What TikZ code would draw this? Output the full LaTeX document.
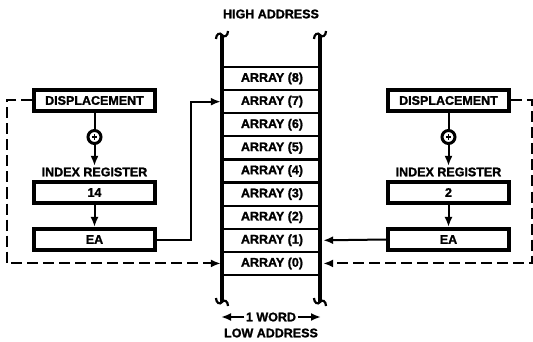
\documentclass[tikz,border=0pt]{standalone}
\usepackage{fontspec}
\setmainfont{Liberation Sans}[BoldFeatures={FakeBold=1.5}]
\usetikzlibrary{arrows.meta}
\begin{document}
\begin{tikzpicture}[x=1pt,y=-1pt,
  font=\bfseries\fontsize{12.5}{14}\selectfont,
  reg/.style={draw, line width=3.6pt, minimum width=121pt, minimum height=21.5pt, inner sep=0pt},
  cell/.style={minimum width=102pt, minimum height=23.1pt, inner sep=0pt},
  lbl/.style={inner sep=1.5pt},
  conn/.style={line width=2pt},
  tip/.style={-{Latex[length=10pt,width=8pt]}},
  dsh/.style={conn, dash pattern=on 11pt off 5pt},
  plus/.style={circle, draw, line width=3pt, minimum size=13pt, inner sep=0pt},
  mem/.style={line width=4.5pt},
  curl/.style={line width=2.2pt},
  row/.style={line width=2.2pt}]
\useasboundingbox (0,0) rectangle (533,342);

% memory column
\draw[mem] (222,35) -- (222,302);
\draw[mem] (320,35) -- (320,302);
\draw[curl] (216,39) .. controls (216,34) and (220,32) .. (222,35) .. controls (224,38) and (228,36) .. (228,31);
\draw[curl] (314,39) .. controls (314,34) and (318,32) .. (320,35) .. controls (322,38) and (326,36) .. (326,31);
\draw[curl] (216,298) .. controls (216,303) and (220,305) .. (222,302) .. controls (224,299) and (228,301) .. (228,306);
\draw[curl] (314,298) .. controls (314,303) and (318,305) .. (320,302) .. controls (322,299) and (326,301) .. (326,306);
\foreach \k in {0,...,9} \draw[row] (222,{67+\k*23.11}) -- (320,{67+\k*23.11});
\foreach \i in {0,...,8} \node[cell] (a\i) at (272,{67+(8-\i)*23.11+11.56}) {ARRAY (\i)};

\node[lbl] (hi) at (271,14) {HIGH ADDRESS};
\node[lbl] (wd) at (271,317) {1 WORD};
\node[lbl] (lo) at (271,333) {LOW ADDRESS};
\coordinate (wl) at (221,317);
\coordinate (wr) at (321,317);
\draw[conn,tip] (wd.west) -- (wl);
\draw[conn,tip] (wd.east) -- (wr);

% left side
\node[reg] (d1) at (94.5,100.5) {DISPLACEMENT};
\node[plus] (p1) at (94.5,137) {};
\draw[line width=1.4pt] (p1.center) ++(-2.6,0) -- ++(5.2,0);
\draw[line width=1.4pt] (p1.center) ++(0,-2.6) -- ++(0,5.2);
\node[lbl] (ir1) at (94.5,172) {INDEX REGISTER};
\node[reg] (r1) at (94.5,192.5) {14};
\node[reg] (e1) at (94.5,239.5) {EA};
\draw[conn] (d1.south) -- (p1.north);
\draw[conn,tip] (p1.south) -- (ir1.north);
\draw[conn,tip] (r1.south) -- (e1.north);
\draw[conn,tip] (e1.east) -- ++(34,0) |- (a7.west);
\draw[dsh,tip] (d1.west) -- ++(-25,0) |- (a0.west);

% right side
\node[reg] (d2) at (448.5,100.5) {DISPLACEMENT};
\node[plus] (p2) at (448.5,137) {};
\draw[line width=1.4pt] (p2.center) ++(-2.6,0) -- ++(5.2,0);
\draw[line width=1.4pt] (p2.center) ++(0,-2.6) -- ++(0,5.2);
\node[lbl] (ir2) at (448.5,172) {INDEX REGISTER};
\node[reg] (r2) at (448.5,192.5) {2};
\node[reg] (e2) at (448.5,239.5) {EA};
\draw[conn] (d2.south) -- (p2.north);
\draw[conn,tip] (p2.south) -- (ir2.north);
\draw[conn,tip] (r2.south) -- (e2.north);
\draw[conn,tip] (e2.west) -- (a1.east);
\draw[dsh,tip] (d2.east) -- ++(21,0) |- (a0.east);
\end{tikzpicture}
\end{document}
